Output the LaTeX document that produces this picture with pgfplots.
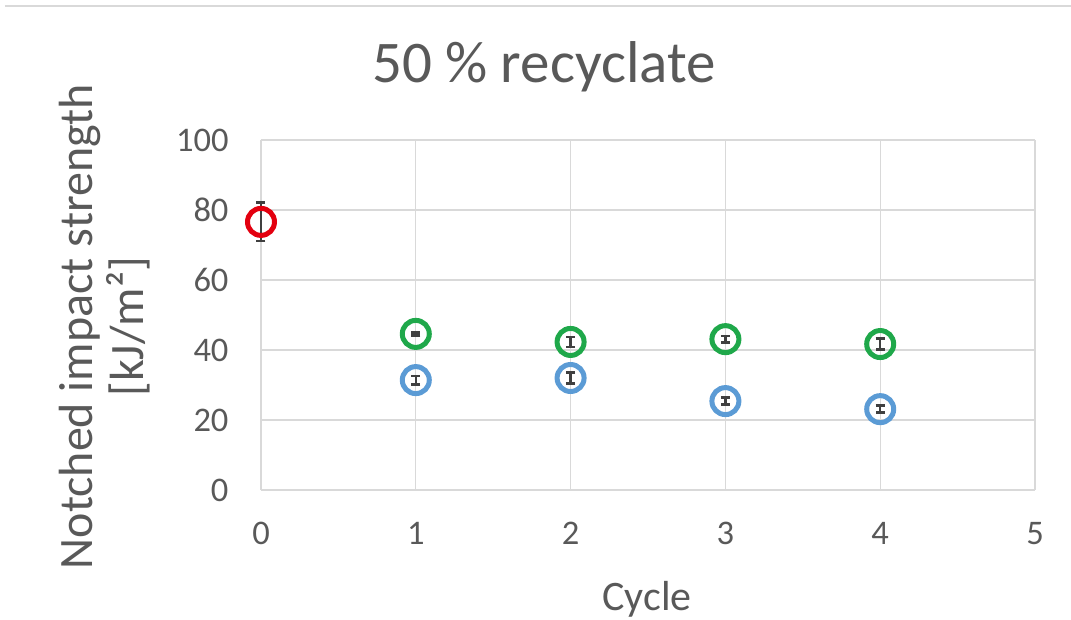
\documentclass[border=0pt]{standalone}
\usepackage{fontspec}
\setmainfont{Carlito}
\usepackage{pgfplots}
\pgfplotsset{compat=1.18}
\definecolor{txt}{HTML}{595959}
\definecolor{gridc}{HTML}{D9D9D9}
\definecolor{cred}{HTML}{E3000F}
\definecolor{cgreen}{HTML}{1FA84A}
\definecolor{cblue}{HTML}{5B9BD5}
\definecolor{ebar}{HTML}{404040}

\begin{document}
\begin{tikzpicture}
\path[use as bounding box] (-261bp,-130bp) rectangle (810bp,490bp);
\draw[gridc, line width=1.5bp] (-256bp,484bp) -- (810bp,484bp);
\begin{axis}[
  width=774bp, height=350bp, scale only axis,
  xmin=0, xmax=5, ymin=0, ymax=100,
  xtick={0,1,2,3,4,5}, ytick={0,20,40,60,80,100},
  grid=major, grid style={gridc, line width=1.2bp},
  axis line style={draw=none},
  major tick length=0pt,
  /pgf/number format/assume math mode=true,
  tick label style={font=\fontsize{34.5bp}{40bp}\selectfont, text=txt},
  xticklabel style={yshift=-29bp},
  yticklabel style={xshift=-29bp},
  every axis title shift=0pt,
  title={50 \% recyclate},
  title style={at={(axis description cs:0.3656,1.1657)}, anchor=base,
    font=\fontsize{59bp}{70bp}\selectfont, text=txt},
  xlabel={Cycle},
  xlabel style={at={(axis description cs:0.4987,-0.3429)}, anchor=base,
    font=\fontsize{42bp}{50bp}\selectfont, text=txt},
  ylabel={Notched impact strength\\{}[kJ/m²]},
  ylabel style={at={(axis description cs:-0.2016,0.466)}, anchor=center,
    align=center, font=\fontsize{48bp}{51bp}\selectfont, text=txt},
  clip=false,
]
\addplot[only marks, mark=o, mark size=13.5bp, mark options={line width=5bp, draw=cred}]
  coordinates {(0,76.6)};
\addplot[only marks, mark=o, mark size=13.5bp, mark options={line width=5bp, draw=cgreen}]
  coordinates {(1,44.6) (2,42.3) (3,43.1) (4,41.7)};
\addplot[only marks, mark=o, mark size=13.5bp, mark options={line width=5bp, draw=cblue}]
  coordinates {(1,31.4) (2,32.0) (3,25.4) (4,23.1)};
% error bars on top of the rings
\addplot[draw=none, mark=none, forget plot,
  error bars/.cd, y dir=both, y explicit,
  error bar style={draw=ebar, line width=2.5bp},
  error mark options={rotate=90, mark size=4.5bp, line width=2.5bp, draw=ebar}]
  coordinates {
    (0,76.6) +- (0,5.5)
    (1,44.6) +- (0,0.4)
    (2,42.3) +- (0,1.4)
    (3,43.1) +- (0,0.9)
    (4,41.7) +- (0,1.6)
    (1,31.4) +- (0,1.2)
    (2,32.0) +- (0,1.6)
    (3,25.4) +- (0,1.0)
    (4,23.1) +- (0,1.0)
  };
\end{axis}
\end{tikzpicture}
\end{document}
